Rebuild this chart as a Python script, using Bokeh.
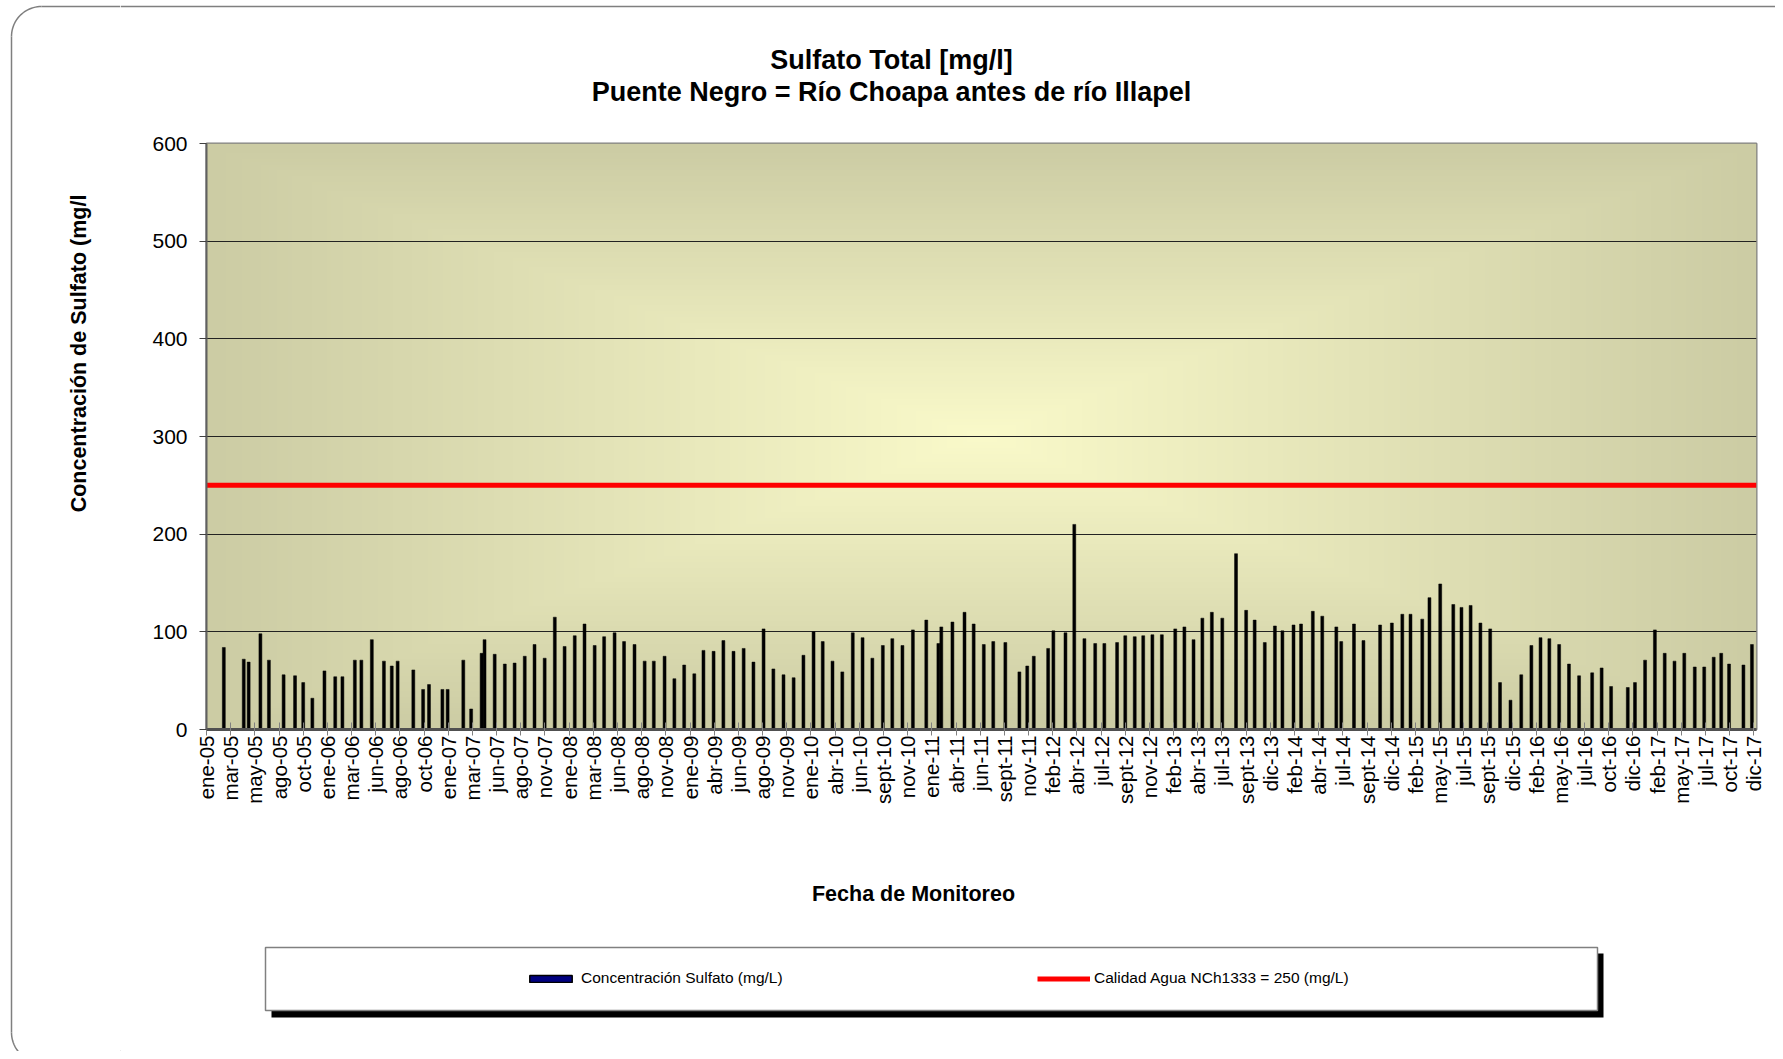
import math
from datetime import datetime

import numpy as np
import pandas as pd
from bokeh.plotting import figure
from bokeh.layouts import column, row
from bokeh.models import (Range1d, FixedTicker, Legend, LegendItem, ColumnDataSource)
from bokeh.core.properties import value
from bokeh.embed import file_html
from bokeh.resources import INLINE

# ---------------- data ----------------
sample_dates = [
    "2005-02-23", "2005-04-25", "2005-05-10", "2005-06-15", "2005-07-11", "2005-08-25",
    "2005-09-29", "2005-10-24", "2005-11-21", "2005-12-28", "2006-01-30", "2006-02-21",
    "2006-03-31", "2006-04-20", "2006-05-22", "2006-06-28", "2006-07-22", "2006-08-09",
    "2006-09-26", "2006-10-26", "2006-11-13", "2006-12-24", "2007-01-09", "2007-02-26",
    "2007-03-22", "2007-04-23", "2007-05-02", "2007-06-02", "2007-07-03", "2007-08-02",
    "2007-09-02", "2007-10-02", "2007-11-02", "2007-12-03", "2008-01-02", "2008-02-02",
    "2008-03-03", "2008-04-03", "2008-05-02", "2008-06-03", "2008-07-02", "2008-08-03",
    "2008-09-03", "2008-10-01", "2008-11-03", "2008-12-03", "2009-01-02", "2009-02-02",
    "2009-03-02", "2009-04-02", "2009-05-02", "2009-06-02", "2009-07-03", "2009-08-02",
    "2009-09-02", "2009-10-02", "2009-11-02", "2009-12-03", "2010-01-02", "2010-02-02",
    "2010-03-02", "2010-04-01", "2010-05-01", "2010-06-02", "2010-07-02", "2010-08-01",
    "2010-09-02", "2010-10-01", "2010-11-01", "2010-12-03", "2011-01-13", "2011-02-19",
    "2011-02-28", "2011-04-03", "2011-05-10", "2011-06-07", "2011-07-08", "2011-08-06",
    "2011-09-12", "2011-10-25", "2011-11-18", "2011-12-08", "2012-01-21", "2012-02-06",
    "2012-03-14", "2012-04-10", "2012-05-11", "2012-06-13", "2012-07-11", "2012-08-19",
    "2012-09-13", "2012-10-12", "2012-11-07", "2012-12-05", "2013-01-03", "2013-02-13",
    "2013-03-13", "2013-04-10", "2013-05-07", "2013-06-05", "2013-07-07", "2013-08-18",
    "2013-09-18", "2013-10-14", "2013-11-14", "2013-12-15", "2014-01-07", "2014-02-10",
    "2014-03-05", "2014-04-10", "2014-05-09", "2014-06-21", "2014-07-06", "2014-08-14",
    "2014-09-12", "2014-11-02", "2014-12-08", "2015-01-09", "2015-02-03", "2015-03-11",
    "2015-04-02", "2015-05-05", "2015-06-14", "2015-07-09", "2015-08-06", "2015-09-05",
    "2015-10-05", "2015-11-04", "2015-12-06", "2016-01-08", "2016-02-08", "2016-03-07",
    "2016-04-03", "2016-05-03", "2016-06-02", "2016-07-03", "2016-08-12", "2016-09-10",
    "2016-10-09", "2016-11-29", "2016-12-21", "2017-01-21", "2017-02-20", "2017-03-22",
    "2017-04-21", "2017-05-21", "2017-06-22", "2017-07-21", "2017-08-19", "2017-09-11",
    "2017-10-05", "2017-11-18", "2017-12-14",
]
sulfato = [
    84, 72, 69, 98, 71, 56,
    55, 48, 32, 60, 54, 54,
    71, 71, 92, 70, 65, 70,
    61, 41, 46, 41, 41, 71,
    21, 78, 92, 77, 67, 68,
    75, 87, 73, 115, 85, 96,
    108, 86, 95, 99, 90, 87,
    70, 70, 75, 52, 66, 57,
    81, 80, 91, 80, 83, 69,
    103, 62, 56, 53, 76, 100,
    90, 70, 59, 99, 94, 73,
    86, 93, 86, 102, 112, 88,
    105, 110, 120, 108, 87, 90,
    89, 59, 65, 75, 83, 101,
    99, 210, 93, 88, 88, 89,
    96, 95, 96, 97, 97, 103,
    105, 92, 114, 120, 114, 180,
    122, 112, 89, 106, 101, 107,
    108, 121, 116, 105, 90, 108,
    91, 107, 109, 118, 118, 113,
    135, 149, 128, 125, 127, 109,
    103, 48, 30, 56, 86, 94,
    93, 87, 67, 55, 58, 63,
    44, 43, 48, 71, 102, 78,
    70, 78, 64, 64, 74, 78,
    67, 66, 87,
]
norma_valor = [250, 250]
serie_nombre = "Concentración Sulfato (mg/L)"
norma_nombre = "Calidad Agua NCh1333 = 250 (mg/L)"
titulo_1 = "Sulfato Total [mg/l]"
titulo_2 = "Puente Negro = Río Choapa antes de río Illapel"
eje_y = "Concentración de Sulfato (mg/l"
eje_x = "Fecha de Monitoreo"

tick_labels = [
    "ene-05", "mar-05", "may-05", "ago-05", "oct-05", "ene-06", "mar-06", "jun-06",
    "ago-06", "oct-06", "ene-07", "mar-07", "jun-07", "ago-07", "nov-07", "ene-08",
    "mar-08", "jun-08", "ago-08", "nov-08", "ene-09", "abr-09", "jun-09", "ago-09",
    "nov-09", "ene-10", "abr-10", "jun-10", "sept-10", "nov-10", "ene-11", "abr-11",
    "jun-11", "sept-11", "nov-11", "feb-12", "abr-12", "jul-12", "sept-12", "nov-12",
    "feb-13", "abr-13", "jul-13", "sept-13", "dic-13", "feb-14", "abr-14", "jul-14",
    "sept-14", "dic-14", "feb-15", "may-15", "jul-15", "sept-15", "dic-15", "feb-16",
    "may-16", "jul-16", "oct-16", "dic-16", "feb-17", "may-17", "jul-17", "oct-17",
    "dic-17",
]
y_ticks = [0, 100, 200, 300, 400, 500, 600]

# ---------------- layout constants (page pixels) ----------------
FONT = "Liberation Sans"
W, H = 1775, 1051
LEFT_W = 120
RW = W - LEFT_W
TOP_H = 125
MID_H = 715
BOT_H = H - TOP_H - MID_H
CARD_X, CARD_Y, CARD_R = 11, 6, 30
CARD_BOTTOM = 1062
CARD_COLOR = "#7f7f7f"


def deco_fig(w, h):
    f = figure(width=w, height=h, x_range=Range1d(0, w), y_range=Range1d(0, h),
               output_backend="svg", toolbar_location=None,
               x_axis_location=None, y_axis_location=None,
               min_border=0, outline_line_color=None)
    f.grid.visible = False
    f.background_fill_color = "white"
    f.border_fill_color = "white"
    return f


th = np.linspace(0, math.pi / 2, 24)

# ---------------- left strip: card edge + y axis title ----------------
left = deco_fig(LEFT_W, H)
ly = lambda Y: H - Y
left.line(x=list(CARD_X + CARD_R - CARD_R * np.cos(th)),
          y=list(ly(CARD_Y + CARD_R) + CARD_R * np.sin(th)),
          line_color=CARD_COLOR, line_width=1.5)
left.line(x=[CARD_X + CARD_R, LEFT_W], y=[ly(CARD_Y), ly(CARD_Y)],
          line_color=CARD_COLOR, line_width=1.5)
left.line(x=[CARD_X, CARD_X], y=[ly(CARD_Y + CARD_R), ly(CARD_BOTTOM - CARD_R)],
          line_color=CARD_COLOR, line_width=1.5)
left.line(x=list(CARD_X + CARD_R - CARD_R * np.cos(th)),
          y=list(ly(CARD_BOTTOM - CARD_R) - CARD_R * np.sin(th)),
          line_color=CARD_COLOR, line_width=1.5)
left.text(x=[78], y=[ly(353)], text=[eje_y], angle=math.pi / 2,
          text_align="center", text_baseline="middle", text_font=value(FONT),
          text_font_style="bold", text_font_size="21.5px", text_color="black")

# ---------------- top strip: titles ----------------
top = deco_fig(RW, TOP_H)
ty = lambda Y: TOP_H - Y
for txt, Y in [(titulo_1, 59), (titulo_2, 91)]:
    top.text(x=[891 - LEFT_W], y=[ty(Y)], text=[txt], text_align="center",
             text_baseline="middle", text_font=value(FONT), text_font_style="bold",
             text_font_size="27px", text_color="black")
top.line(x=[0, RW], y=[ty(CARD_Y), ty(CARD_Y)], line_color=CARD_COLOR, line_width=1.5)

# ---------------- main chart ----------------
x_start = datetime(2005, 1, 1)
x_end = datetime(2017, 12, 28)
tick_step_days = 74
DAY_MS = 86400000

p = figure(width=RW, height=MID_H, x_axis_type="datetime",
           x_range=Range1d(x_start, x_end), y_range=Range1d(0, 600),
           output_backend="svg", toolbar_location=None,
           min_border_left=206 - LEFT_W, min_border_right=W - 1756,
           min_border_top=143 - TOP_H, min_border_bottom=(TOP_H + MID_H) - 729)
p.border_fill_color = "white"
p.background_fill_color = "#d8d8b0"
p.outline_line_color = "#808080"
p.outline_line_width = 2

# background gradient (Excel-like "from center" fill)
nx, ny = 400, 200
u = np.abs(np.linspace(-1, 1, nx))[None, :]
v = np.abs(np.linspace(-1, 1, ny))[:, None]
f = np.clip(np.maximum(u, v), 0, 1)
center_c = np.array([250, 250, 202])
edge_c = np.array([204, 204, 164])
img = np.empty((ny, nx), dtype=np.uint32)
view = img.view(dtype=np.uint8).reshape((ny, nx, 4))
for i in range(3):
    view[:, :, i] = (center_c[i] + (edge_c[i] - center_c[i]) * f).astype(np.uint8)
view[:, :, 3] = 255
x0_ms = pd.Timestamp(x_start).value / 1e6
x1_ms = pd.Timestamp(x_end).value / 1e6
p.image_rgba(image=[img], x=x0_ms, y=0, dw=x1_ms - x0_ms, dh=600, level="image")

src = ColumnDataSource(dict(fecha=pd.to_datetime(sample_dates), valor=sulfato))
p.vbar(x="fecha", top="valor", width=9 * DAY_MS, source=src,
       fill_color="black", line_color="black", line_width=0.5)
p.line(x=[x_start, x_end], y=norma_valor, line_color="#ff0000", line_width=5)

p.xgrid.visible = False
p.ygrid.ticker = FixedTicker(ticks=y_ticks)
p.ygrid.grid_line_color = "#222222"
p.ygrid.grid_line_width = 1

ya = p.yaxis[0]
ya.ticker = FixedTicker(ticks=y_ticks)
ya.axis_line_color = "#606060"
ya.axis_line_width = 2
ya.major_tick_line_color = "#404040"
ya.major_tick_out = 7
ya.major_tick_in = 0
ya.minor_tick_line_color = None
ya.major_label_text_font = FONT
ya.major_label_text_font_size = "21px"
ya.major_label_text_color = "black"
ya.major_label_standoff = 12

ticks_ms = [x0_ms + k * tick_step_days * DAY_MS for k in range(len(tick_labels))]
xa = p.xaxis[0]
xa.ticker = FixedTicker(ticks=ticks_ms)
xa.major_label_overrides = {t: lab for t, lab in zip(ticks_ms, tick_labels)}
xa.major_label_orientation = math.pi / 2
xa.axis_line_color = "#505050"
xa.axis_line_width = 3
xa.major_tick_line_color = "#808080"
xa.major_tick_in = 7
xa.major_tick_out = 6
xa.minor_tick_line_color = None
xa.major_label_text_font = FONT
xa.major_label_text_font_size = "20.5px"
xa.major_label_text_color = "black"
xa.major_label_standoff = 0

# ---------------- bottom strip: x title + legend ----------------
bot = deco_fig(RW, BOT_H)
Y0 = TOP_H + MID_H
by = lambda Y: BOT_H - (Y - Y0)
bx = lambda X: X - LEFT_W

bot.text(x=[bx(913)], y=[by(893)], text=[eje_x], text_align="center",
         text_baseline="middle", text_font=value(FONT), text_font_style="bold",
         text_font_size="21.5px", text_color="black")
bot.quad(left=[bx(271)], right=[bx(1603)], top=[by(953)], bottom=[by(1017)],
         fill_color="black", line_color=None)
bot.quad(left=[bx(265)], right=[bx(1597)], top=[by(947)], bottom=[by(1010)],
         fill_color="white", line_color="#808080", line_width=1.5)
# legend entries: same glyph styles as the two series (kept off-canvas)
leg_bar = bot.vbar(x=[-500], top=[-400], bottom=[-500], width=1, fill_color="#000080",
                   line_color="black", line_width=1.5)
leg_line = bot.line(x=[-600, -500], y=[-500, -500], line_color="#ff0000", line_width=5)
legend = Legend(items=[LegendItem(label=serie_nombre, renderers=[leg_bar]),
                       LegendItem(label=norma_nombre, renderers=[leg_line])],
                orientation="horizontal", location=(bx(524), by(978) - 10),
                padding=0, margin=0, spacing=0,
                glyph_width=53, glyph_height=9, label_standoff=4,
                label_width=456, label_height=20,
                label_text_font=FONT, label_text_font_size="15.5px",
                label_text_color="black",
                border_line_color=None, background_fill_alpha=0)
bot.add_layout(legend)

layout = row(left, column(top, row(p, spacing=0), bot, spacing=0), spacing=0)
open("out.html", "w").write(file_html(layout, INLINE))
